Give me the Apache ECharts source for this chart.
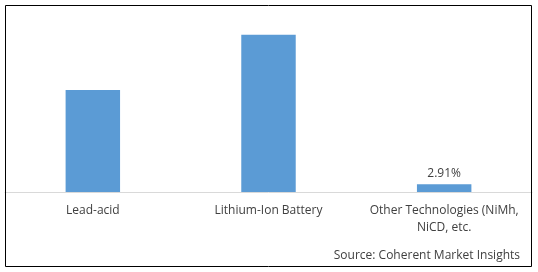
<!DOCTYPE html>
<html>
<head>
<meta charset="utf-8">
<script src="https://cdn.jsdelivr.net/npm/echarts@6/dist/echarts.min.js"></script>
<style>
html,body{margin:0;padding:0;background:#fff;}
#chart{width:538px;height:272px;}
</style>
</head>
<body>
<div id="chart"></div>
<script>
const categories = ["Lead-acid", "Lithium-Ion Battery", "Other Technologies (NiMh,\nNiCD, etc."];
const shares = [38.2, 58.89, 2.91];
const shownLabels = ["", "", "2.91%"];
const sourceText = "Source: Coherent Market Insights";

const chart = echarts.init(document.getElementById('chart'), null, {renderer: 'canvas'});
const font = '"Open Sans", "Liberation Sans", sans-serif';
chart.setOption({
  animation: false,
  backgroundColor: '#ffffff',
  grid: {left: 5, right: 6, top: 5, bottom: 80, containLabel: false},
  xAxis: {
    type: 'category',
    data: categories,
    axisLine: {show: true, lineStyle: {color: '#d9d9d9', width: 1}},
    axisTick: {show: false},
    axisLabel: {color: '#404040', fontSize: 12, fontFamily: font, margin: 10, lineHeight: 17, interval: 0}
  },
  yAxis: {
    type: 'value', min: 0, max: 70,
    show: false,
    splitLine: {show: false}
  },
  series: [{
    type: 'bar',
    data: shares,
    barWidth: '31%',
    itemStyle: {color: '#5b9bd5'},
    label: {
      show: true, position: 'top', distance: 5,
      color: '#404040', fontSize: 12, fontFamily: font,
      formatter: p => shownLabels[p.dataIndex]
    }
  }],
  graphic: [
    {type: 'rect', shape: {x: 5.5, y: 5.5, width: 526, height: 261}, style: {fill: null, stroke: '#000', lineWidth: 1}, silent: true, z: 100},
    {type: 'text', right: 18, top: 250, style: {text: sourceText, fill: '#404040', fontSize: 12, fontFamily: font}}
  ]
});
</script>
</body>
</html>
